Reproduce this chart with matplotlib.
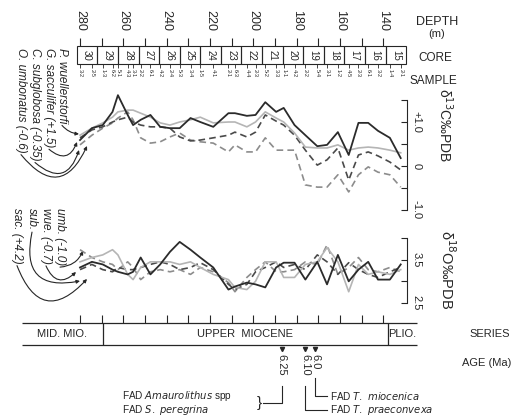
import numpy as np
import matplotlib.pyplot as plt
from matplotlib.patches import Rectangle

plt.rcParams['font.family'] = ['Liberation Sans', 'DejaVu Sans']

# sample depths (m)
depth = [280, 274.5, 269.5, 265, 262.5, 258, 255.5, 252, 247.5, 243, 238.5, 234, 229, 224.5,
         218.5, 211.5, 208.5, 203, 199, 194.5, 189.5, 186, 181, 176, 170.5, 166, 161, 156,
         151.5, 147, 142.5, 137, 132]
sample_labels = ['3-2', '2-5', '1-3', '6-2', '5-1', '4-3', '3-1', '2-2', '6-1', '4-2', '2-4',
                 '5-3', '3-4', '1-5', '4-1', '2-1', '6-3', '4-4', '2-3', '5-2', '3-3', '1-1',
                 '4-2', '2-2', '5-4', '3-1', '1-2', '4-5', '2-3', '6-1', '3-2', '1-4', '2-1']

# d13C (per mil PDB, species offsets already applied)
c13_wue = [0.59, 0.86, 0.93, 1.23, 1.61, 1.16, 0.93, 1.05, 1.16, 0.89, 0.86, 0.86, 1.09, 1.00,
           0.89, 1.20, 1.20, 1.14, 1.16, 1.45, 1.23, 1.32, 0.93, 0.70, 0.45, 0.48, 0.77, 0.25,
           0.98, 0.98, 0.80, 0.64, 0.18]
c13_sac = [0.70, 0.86, 0.98, 1.11, 1.23, 1.27, 1.27, 1.20, 1.11, 0.98, 0.93, 1.00, 1.05, 1.11,
           0.98, 1.00, 1.00, 0.89, 1.00, 1.23, 1.09, 1.00, 0.75, 0.43, 0.41, 0.41, 0.48, 0.36,
           0.41, 0.43, 0.41, 0.36, 0.30]
c13_sub = [0.64, 0.82, 0.89, 1.00, 1.05, 1.11, 1.00, 0.93, 0.89, 0.89, 0.86, 0.66, 0.57, 0.59,
           0.64, 0.70, 0.77, 0.66, 0.77, 1.16, 1.02, 0.93, 0.70, 0.36, 0.02, 0.14, 0.41, -0.32,
           0.25, 0.32, 0.23, 0.09, -0.09]
c13_umb = [0.48, 0.70, 0.86, 0.98, 1.09, 1.23, 1.05, 0.64, 0.52, 0.55, 0.66, 0.75, 0.59, 0.55,
           0.52, 0.32, 0.48, 0.32, 0.32, 0.64, 0.36, 0.36, 0.36, -0.43, -0.48, -0.48, -0.20, -0.59,
           -0.20, -0.02, -0.14, -0.20, -0.48]

# d18O (per mil PDB, species offsets already applied)
o18_wue = [3.32, 3.45, 3.39, 3.27, 3.22, 3.16, 3.22, 3.55, 3.16, 3.39, 3.68, 3.91, 3.73, 3.55,
           3.32, 2.81, 2.88, 2.97, 2.93, 2.86, 3.32, 3.43, 3.43, 3.04, 3.45, 2.93, 3.61, 3.00,
           3.27, 3.45, 3.04, 3.04, 3.39]
o18_sac = [3.45, 3.55, 3.61, 3.73, 3.61, 3.16, 3.04, 3.32, 3.45, 3.45, 3.45, 3.39, 3.45, 3.32,
           3.16, 3.04, 2.86, 2.81, 3.00, 3.45, 3.45, 3.09, 3.09, 3.39, 3.45, 3.78, 3.45, 2.76,
           3.39, 3.16, 3.22, 3.16, 3.27]
o18_sub = [3.27, 3.39, 3.27, 3.22, 3.32, 3.27, 3.27, 3.32, 3.39, 3.45, 3.39, 3.27, 3.32, 3.43,
           3.27, 2.93, 2.81, 2.93, 3.22, 3.32, 3.45, 3.32, 3.39, 3.27, 3.61, 3.45, 3.16, 3.43,
           3.27, 3.16, 3.09, 3.22, 3.32]
o18_umb = [3.73, 3.55, 3.45, 3.39, 3.27, 3.45, 3.32, 3.04, 3.22, 3.27, 3.22, 3.27, 3.16, 3.32,
           3.22, 2.97, 2.76, 3.09, 3.27, 3.45, 3.22, 3.22, 3.27, 3.45, 3.39, 3.84, 3.16, 3.32,
           3.55, 3.27, 3.22, 3.32, 3.22]

# cores (9.5 m each)
core_numbers = [30, 29, 28, 27, 26, 25, 24, 23, 22, 21, 20, 19, 18, 17, 16, 15]
core_bounds = [281.5, 272.0, 262.5, 253.0, 243.5, 234.0, 224.5, 215.0, 205.5, 196.0,
               186.5, 177.0, 167.5, 158.0, 148.5, 139.0, 129.5]
depth_labels = [280, 260, 240, 220, 200, 180, 160, 140]
depth_ticks = list(range(140, 290, 10))

series_names = ['MID. MIO.', 'UPPER  MIOCENE', 'PLIO.']
series_bounds = [306.8, 269.4, 137.9, 124.5]

age_depths = [187.0, 176.0, 171.5]
age_labels = ['6.25', '6.10', '6.0']

up_labels = ['P. wuellerstorfi', 'G. sacculifer (+1.5)',
             'C. subglobosa (-0.35)', 'O. umbonatus (-0.6)']
lo_labels = ['umb. (-1.0)', 'wue. (-0.7)', 'sub.', 'sac. (+4.2)']

PX_PER_M = 2.167


def px2d(x):
    return 280 - (x - 80) / PX_PER_M


XLIM = (px2d(0), px2d(518))
W, H = 518, 419
ink = '#262626'

fig = plt.figure(figsize=(5.18, 4.19), dpi=100)

pix = fig.add_axes([0, 0, 1, 1])
pix.set_xlim(0, W)
pix.set_ylim(H, 0)
pix.axis('off')

base = fig.add_axes([0, 0, 1, 1])
base.set_xlim(*XLIM)
base.set_ylim(H, 0)
base.axis('off')

# depth scale
for d in depth_labels:
    base.text(d, 10, str(d), rotation=-90, ha='center', va='top', fontsize=9, color=ink)
base.vlines(depth_ticks, 38, 46, color=ink, lw=0.8)

# core row
for i, n in enumerate(core_numbers):
    a, b = core_bounds[i], core_bounds[i + 1]
    base.add_patch(Rectangle((a, 46), b - a, 18, fill=False, ec=ink, lw=0.8))
    base.text((a + b) / 2, 55, str(n), rotation=-90, ha='center', va='center', fontsize=7, color=ink)

# samples
base.vlines(depth, 64, 68, color=ink, lw=0.6)
for d, s in zip(depth, sample_labels):
    base.text(d, 69, s, rotation=-90, ha='center', va='top', fontsize=4, color=ink)

pix.text(437, 22, 'DEPTH', ha='center', va='center', fontsize=9, color=ink)
pix.text(437, 34, '(m)', ha='center', va='center', fontsize=8, color=ink)
pix.text(418, 58, 'CORE', ha='left', va='center', fontsize=8.5, color=ink)
pix.text(410, 81, 'SAMPLE', ha='left', va='center', fontsize=8.5, color=ink)

styles = {
    'wue': dict(color='#2b2b2b', lw=1.3, ls='-'),
    'sac': dict(color='#b5b5b5', lw=1.2, ls='-'),
    'sub': dict(color='#4a4a4a', lw=1.2, ls=(0, (4, 2.5))),
    'umb': dict(color='#8c8c8c', lw=1.2, ls=(0, (4, 2.5))),
}


def setup_panel(ax, lo, hi, ticks, labels):
    ax.set_xlim(*XLIM)
    ax.set_ylim(lo, hi)
    ax.patch.set_alpha(0)
    for s in ['top', 'left', 'bottom']:
        ax.spines[s].set_visible(False)
    ax.spines['right'].set_position(('data', px2d(407)))
    ax.spines['right'].set_bounds(lo, hi)
    ax.spines['right'].set_color(ink)
    ax.spines['right'].set_linewidth(0.8)
    ax.xaxis.set_visible(False)
    ax.yaxis.tick_right()
    ax.set_yticks(ticks)
    ax.set_yticklabels(labels)
    ax.tick_params(axis='y', direction='in', length=4, width=0.8, colors=ink,
                   labelsize=8, labelrotation=-90, pad=3)
    for t in ax.get_yticklabels():
        t.set_va('center')


# upper panel: d13C
ax1 = fig.add_axes([0, 1 - 210 / H, 1, 110 / H])
setup_panel(ax1, -1.0, 1.5, [-1.0, -0.5, 0, 0.5, 1.0, 1.5], ['-1.0', '', '0', '', '+1.0', ''])
ax1.plot(depth, c13_umb, clip_on=False, **styles['umb'])
ax1.plot(depth, c13_sub, clip_on=False, **styles['sub'])
ax1.plot(depth, c13_sac, clip_on=False, **styles['sac'])
ax1.plot(depth, c13_wue, clip_on=False, **styles['wue'])
pix.text(445, 88, r'δ$^{13}$C‰PDB', rotation=-90, ha='center', va='top', fontsize=10, color=ink)

# lower panel: d18O
ax2 = fig.add_axes([0, 1 - 303 / H, 1, 65 / H])
setup_panel(ax2, 2.5, 4.0, [2.5, 3.0, 3.5, 4.0], ['2.5', '', '3.5', ''])
ax2.plot(depth, o18_umb, clip_on=False, **styles['umb'])
ax2.plot(depth, o18_sub, clip_on=False, **styles['sub'])
ax2.plot(depth, o18_sac, clip_on=False, **styles['sac'])
ax2.plot(depth, o18_wue, clip_on=False, **styles['wue'])
pix.text(447, 230, r'δ$^{18}$O‰PDB', rotation=-90, ha='center', va='top', fontsize=10.5, color=ink)

# species labels with curved pointers
up_x = [62, 49, 35, 21]
up_end = [(79, 134), (77, 142), (79, 150), (87, 146)]
up_rad = [0.2, 0.7, 0.75, 0.8]
lo_x = [60, 46, 32, 17]
lo_end = [(83, 251), (76, 272), (80, 281), (87, 279)]
lo_rad = [0.3, 0.7, 0.75, 0.8]

up_txt = [pix.text(x, 48, t, rotation=-90, ha='center', va='top', fontsize=8.5,
                   style='italic', color=ink) for t, x in zip(up_labels, up_x)]
lo_txt = [pix.text(x, 208, t, rotation=-90, ha='center', va='top', fontsize=8.5,
                   style='italic', color=ink) for t, x in zip(lo_labels, lo_x)]

fig.canvas.draw()
renderer = fig.canvas.get_renderer()
inv = pix.transData.inverted()
for txts, ends, rads in [(up_txt, up_end, up_rad), (lo_txt, lo_end, lo_rad)]:
    for txt, e, r in zip(txts, ends, rads):
        bb = txt.get_window_extent(renderer).transformed(inv)
        start = (txt.get_position()[0], max(bb.y0, bb.y1) + 2)
        pix.annotate('', xy=e, xytext=start,
                     arrowprops=dict(arrowstyle='-|>', color=ink, lw=0.8, mutation_scale=5,
                                     connectionstyle=f'arc3,rad={r}', shrinkA=0, shrinkB=0))

# series bar
base.hlines([323, 345], series_bounds[0], series_bounds[-1], color=ink, lw=0.9)
base.vlines(series_bounds[1:-1], 323, 345, color=ink, lw=0.9)
base.vlines(depth_ticks, 315, 323, color=ink, lw=0.8)
for i, name in enumerate(series_names):
    base.text((series_bounds[i] + series_bounds[i + 1]) / 2, 334, name,
              ha='center', va='center', fontsize=8, color=ink)
pix.text(490, 334, 'SERIES', ha='center', va='center', fontsize=8, color=ink)
pix.text(462, 363, 'AGE (Ma)', ha='left', va='center', fontsize=8, color=ink)

# age markers
base.plot(age_depths, [349] * len(age_depths), ls='none', marker='v', ms=3, color=ink)
for d, s in zip(age_depths, age_labels):
    base.text(d, 354, s, rotation=-90, ha='center', va='top', fontsize=8, color=ink)

# FAD annotations
d25, d10, d0 = age_depths
base.plot([d25, d25, px2d(263)], [386, 403, 403], color=ink, lw=0.8)
base.plot([d10, d10, px2d(327)], [386, 410, 410], color=ink, lw=0.8)
base.plot([d0, d0, px2d(327)], [378, 396, 396], color=ink, lw=0.8)
pix.text(122, 396, r'FAD $\it{Amaurolithus}$ spp', ha='left', va='center', fontsize=7.2, color=ink)
pix.text(122, 410, r'FAD $\it{S.\ peregrina}$', ha='left', va='center', fontsize=7.2, color=ink)
pix.text(259, 403, '}', ha='center', va='center', fontsize=11, color=ink)
pix.text(330, 396, r'FAD $\it{T.\ miocenica}$', ha='left', va='center', fontsize=7.2, color=ink)
pix.text(330, 410, r'FAD $\it{T.\ praeconvexa}$', ha='left', va='center', fontsize=7.2, color=ink)

fig.savefig('out.png', dpi=100)
